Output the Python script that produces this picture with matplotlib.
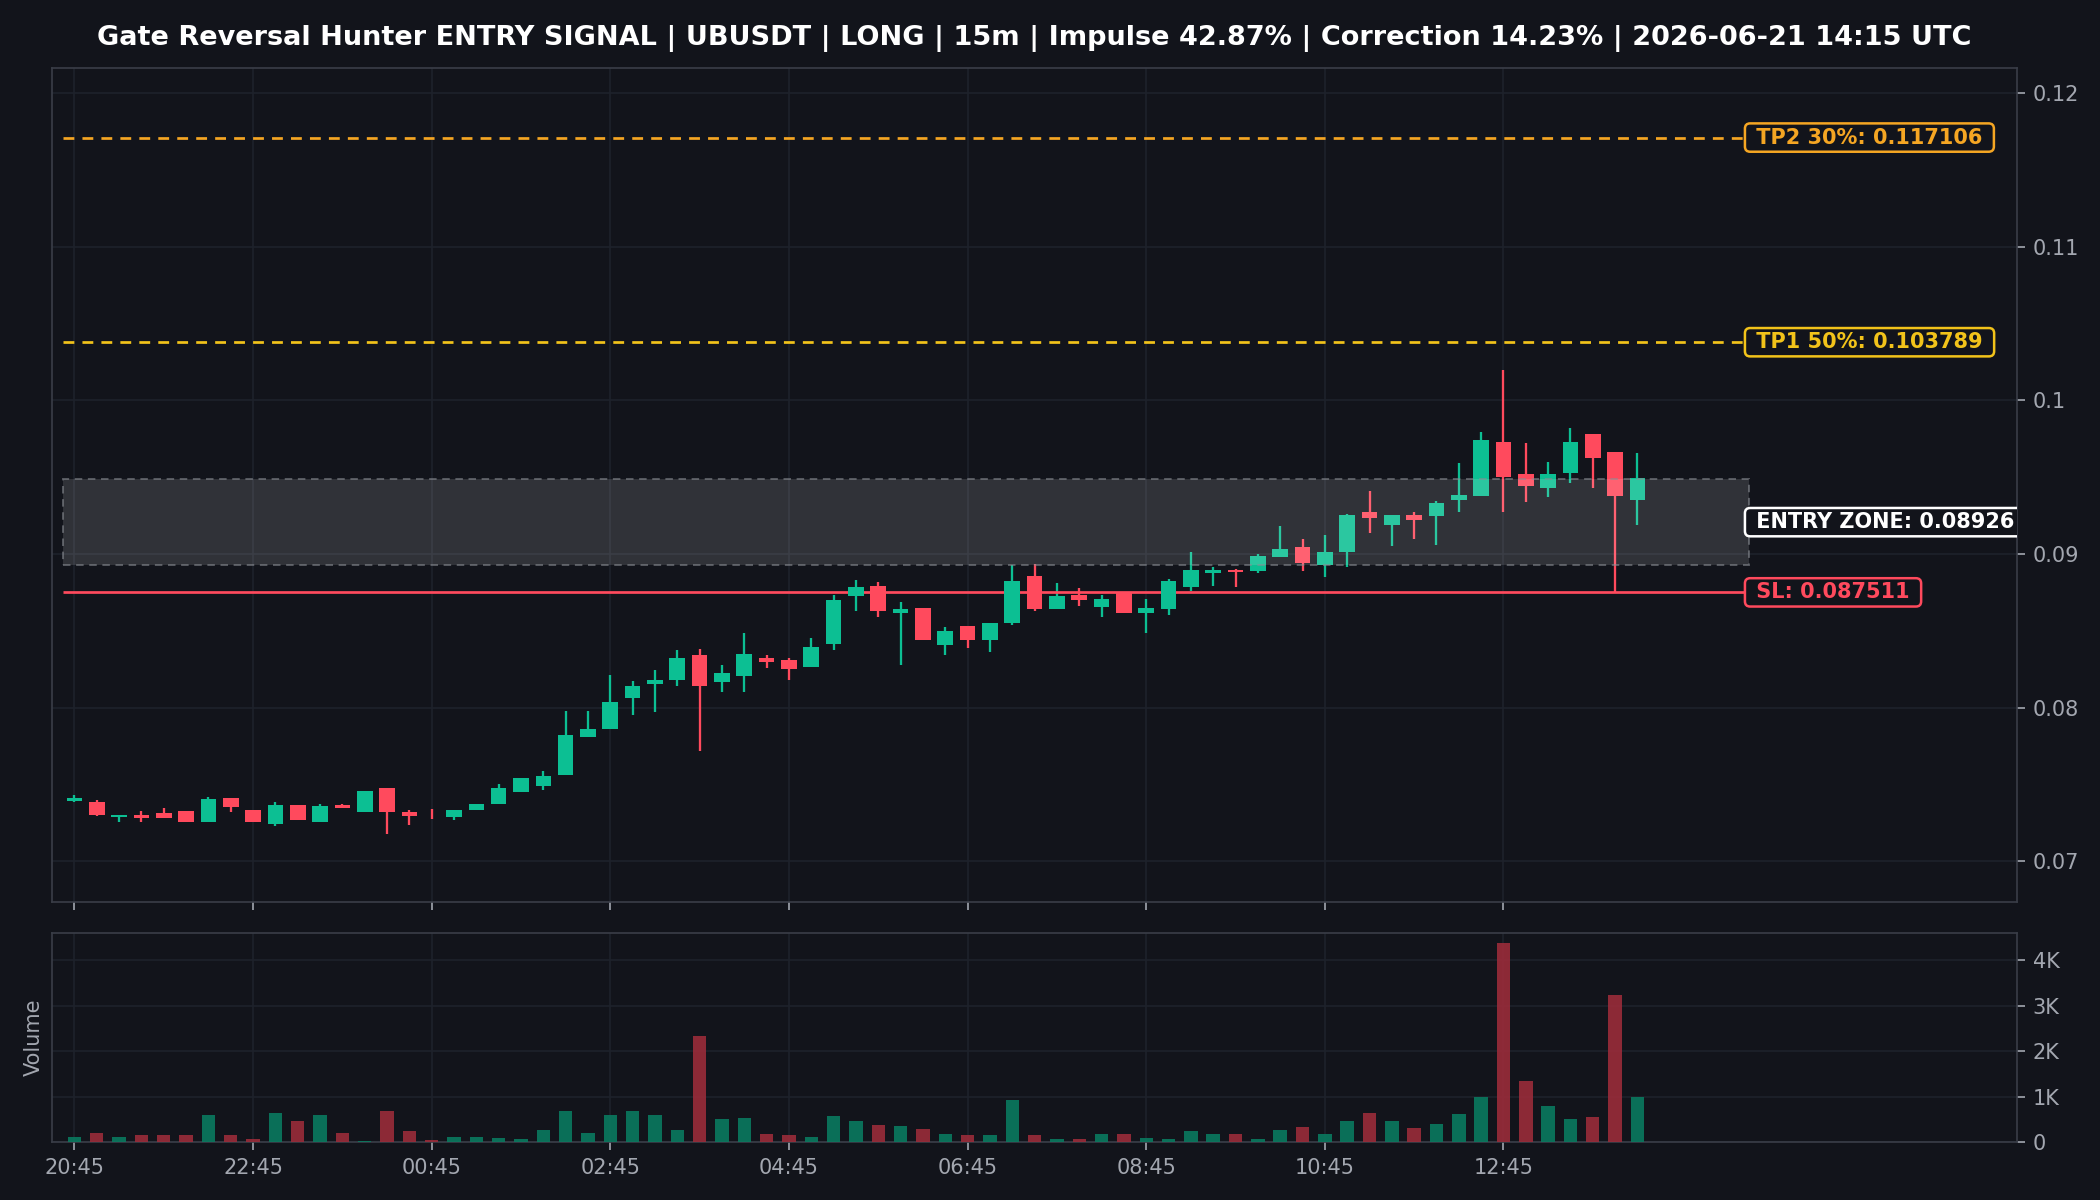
import matplotlib
matplotlib.use("Agg")
import matplotlib.pyplot as plt
from matplotlib.patches import Rectangle
from matplotlib.ticker import FixedLocator, FuncFormatter
import numpy as np
import pandas as pd

# 15m candles, 20:45 -> 14:15 UTC
opens = [0.07391, 0.07388, 0.07289, 0.07302, 0.07315, 0.07330, 0.07260, 0.07412, 0.07336, 0.07245,
         0.07367, 0.07260, 0.07367, 0.07325, 0.07477, 0.07323, 0.07299, 0.07289, 0.07332, 0.07371,
         0.07449, 0.07494, 0.07560, 0.07813, 0.07865, 0.08061, 0.08158, 0.08184, 0.08342, 0.08167,
         0.08206, 0.08321, 0.08310, 0.08264, 0.08414, 0.08729, 0.08794, 0.08616, 0.08648, 0.08410,
         0.08533, 0.08438, 0.08549, 0.08857, 0.08646, 0.08735, 0.08653, 0.08746, 0.08616, 0.08642,
         0.08789, 0.08876, 0.08898, 0.08887, 0.08980, 0.09045, 0.08930, 0.09017, 0.09273, 0.09190,
         0.09256, 0.09245, 0.09355, 0.09379, 0.09728, 0.09520, 0.09433, 0.09531, 0.09780, 0.09663,
         0.09353]
highs = [0.07432, 0.07401, 0.07302, 0.07330, 0.07347, 0.07330, 0.07417, 0.07412, 0.07336, 0.07388,
         0.07367, 0.07373, 0.07375, 0.07460, 0.07477, 0.07332, 0.07343, 0.07334, 0.07375, 0.07503,
         0.07542, 0.07590, 0.07980, 0.07980, 0.08215, 0.08176, 0.08247, 0.08377, 0.08384, 0.08277,
         0.08486, 0.08345, 0.08323, 0.08453, 0.08735, 0.08831, 0.08818, 0.08687, 0.08648, 0.08527,
         0.08533, 0.08553, 0.08930, 0.08937, 0.08811, 0.08779, 0.08735, 0.08746, 0.08709, 0.08837,
         0.09017, 0.08917, 0.08902, 0.09002, 0.09186, 0.09097, 0.09126, 0.09260, 0.09412, 0.09253,
         0.09273, 0.09347, 0.09592, 0.09793, 0.10199, 0.09722, 0.09598, 0.09820, 0.09780, 0.09663,
         0.09657]
lows = [0.07386, 0.07293, 0.07254, 0.07254, 0.07286, 0.07260, 0.07260, 0.07325, 0.07260, 0.07228,
        0.07267, 0.07254, 0.07345, 0.07325, 0.07180, 0.07239, 0.07278, 0.07273, 0.07332, 0.07371,
        0.07449, 0.07468, 0.07560, 0.07813, 0.07865, 0.07956, 0.07974, 0.08145, 0.07716, 0.08106,
        0.08100, 0.08262, 0.08178, 0.08264, 0.08375, 0.08627, 0.08594, 0.08280, 0.08440, 0.08345,
        0.08392, 0.08366, 0.08536, 0.08627, 0.08646, 0.08664, 0.08588, 0.08616, 0.08484, 0.08607,
        0.08757, 0.08794, 0.08789, 0.08880, 0.08978, 0.08887, 0.08848, 0.08913, 0.09136, 0.09056,
        0.09099, 0.09058, 0.09271, 0.09375, 0.09271, 0.09336, 0.09373, 0.09466, 0.09429, 0.08751,
        0.09190]
closes = [0.07414, 0.07304, 0.07302, 0.07280, 0.07286, 0.07260, 0.07406, 0.07352, 0.07260, 0.07367,
          0.07267, 0.07360, 0.07345, 0.07460, 0.07319, 0.07299, 0.07293, 0.07334, 0.07375, 0.07477,
          0.07542, 0.07555, 0.07824, 0.07861, 0.08037, 0.08143, 0.08180, 0.08323, 0.08139, 0.08225,
          0.08349, 0.08301, 0.08251, 0.08397, 0.08703, 0.08785, 0.08633, 0.08644, 0.08442, 0.08501,
          0.08438, 0.08553, 0.08826, 0.08640, 0.08726, 0.08703, 0.08709, 0.08620, 0.08648, 0.08826,
          0.08898, 0.08898, 0.08883, 0.08989, 0.09032, 0.08941, 0.09013, 0.09256, 0.09232, 0.09253,
          0.09225, 0.09334, 0.09386, 0.09744, 0.09499, 0.09440, 0.09520, 0.09728, 0.09624, 0.09375,
          0.09494]
volumes = [103, 199, 103, 147, 162, 147, 588, 147, 59, 632,
           456, 588, 199, 22, 676, 235, 44, 103, 103, 81,
           59, 257, 676, 199, 588, 676, 588, 257, 2338, 500,
           529, 169, 147, 103, 566, 456, 368, 346, 279, 169,
           147, 147, 919, 147, 59, 59, 169, 169, 81, 59,
           235, 169, 169, 59, 257, 331, 169, 456, 632, 456,
           309, 397, 610, 993, 4375, 1338, 787, 500, 551, 3235,
           993]

times = pd.date_range("2026-06-20 20:45", periods=len(opens), freq="15min")

entry_low = 0.089260
entry_high = 0.094900
stop_loss = 0.087511
tp1 = 0.103789
tp2 = 0.117106

BG = "#12141b"
GREEN = "#0cbf93"
RED = "#ff4a5d"
GRID = "#1e222b"
SPINE = "#3a3e48"
TXT = "#a3a7b0"
TP1_C = "#f2c31a"
TP2_C = "#f5a623"

plt.rcParams["font.family"] = ["DejaVu Sans"]

fig = plt.figure(figsize=(14, 8), dpi=150, facecolor=BG)
ax = fig.add_axes([0.0248, 0.2483, 0.9357, 0.695])
axv = fig.add_axes([0.0248, 0.0483, 0.9357, 0.1742], sharex=ax)

for a in (ax, axv):
    a.set_facecolor(BG)
    for s in a.spines.values():
        s.set_color(SPINE)
    a.yaxis.tick_right()
    a.tick_params(colors=TXT, labelsize=10, length=4, color=TXT)
    a.grid(True, color=GRID, linewidth=0.8)
    a.set_axisbelow(True)

n = len(opens)
x = np.arange(n)
o = np.array(opens); h = np.array(highs); l = np.array(lows); c = np.array(closes)
up = c >= o
cols = np.where(up, GREEN, RED)

# candles
ax.vlines(x, l, h, colors=cols, linewidth=1.1, zorder=3)
body_lo = np.minimum(o, c)
body_h = np.maximum(np.abs(c - o), 0.00006)
ax.bar(x, body_h, bottom=body_lo, width=0.7, color=cols, zorder=4, linewidth=0)

x_end = n + 4
# entry zone
ax.add_patch(Rectangle((-0.5, entry_low), x_end + 0.5, entry_high - entry_low,
                       facecolor="#ffffff", alpha=0.13, edgecolor="none", zorder=5))
ax.add_patch(Rectangle((-0.5, entry_low), x_end + 0.5, entry_high - entry_low,
                       facecolor="none", edgecolor="#8a8d94", linestyle=(0, (4, 3)),
                       linewidth=0.9, alpha=0.6, zorder=5))

ax.hlines(tp2, -0.5, x_end, colors=TP2_C, linestyles=(0, (4, 3)), linewidth=1.3, zorder=3)
ax.hlines(tp1, -0.5, x_end, colors=TP1_C, linestyles=(0, (4, 3)), linewidth=1.3, zorder=3)
ax.hlines(stop_loss, -0.5, x_end, colors=RED, linewidth=1.3, zorder=3)

def tag(y, text, color):
    ax.text(x_end, y, f" {text} ", color=color, fontsize=10, fontweight="bold",
            va="center", ha="left", zorder=6, clip_on=True,
            bbox=dict(boxstyle="round,pad=0.2,rounding_size=0.25", facecolor=BG,
                      edgecolor=color, linewidth=1.2))

tag(tp2, f"TP2 30%: {tp2:.6f}", TP2_C)
tag(tp1, f"TP1 50%: {tp1:.6f}", TP1_C)
tag((entry_low + entry_high) / 2, f"ENTRY ZONE: {entry_low:.5f}", "#ffffff")
tag(stop_loss, f"SL: {stop_loss:.6f}", RED)

ax.set_xlim(-1, n + 16)
ax.set_ylim(0.06736, 0.12163)
ax.yaxis.set_major_locator(FixedLocator([0.07, 0.08, 0.09, 0.10, 0.11, 0.12]))
ax.yaxis.set_major_formatter(FuncFormatter(lambda v, p: f"{v:g}"))
ax.tick_params(axis="x", labelbottom=False)

ax.set_title("Gate Reversal Hunter ENTRY SIGNAL | UBUSDT | LONG | 15m | Impulse 42.87% | "
             "Correction 14.23% | 2026-06-21 14:15 UTC",
             color="white", fontsize=13, fontweight="bold", pad=11)

# volume
vcols = np.where(up, "#0a7a5f", "#9a2c3a")
axv.bar(x, volumes, width=0.6, color=vcols, alpha=0.9, linewidth=0, zorder=3)
axv.set_ylim(0, max(volumes) * 1.05)
axv.yaxis.set_major_locator(FixedLocator([0, 1000, 2000, 3000, 4000]))
axv.yaxis.set_major_formatter(FuncFormatter(lambda v, p: "0" if v == 0 else f"{v / 1000:.0f}K"))
axv.set_ylabel("Volume", color=TXT, fontsize=10)
axv.yaxis.set_label_position("left")

tick_idx = x[::8]
axv.set_xticks(tick_idx)
axv.set_xticklabels([times[i].strftime("%H:%M") for i in tick_idx])

fig.savefig("out.png", dpi=150, facecolor=BG)
